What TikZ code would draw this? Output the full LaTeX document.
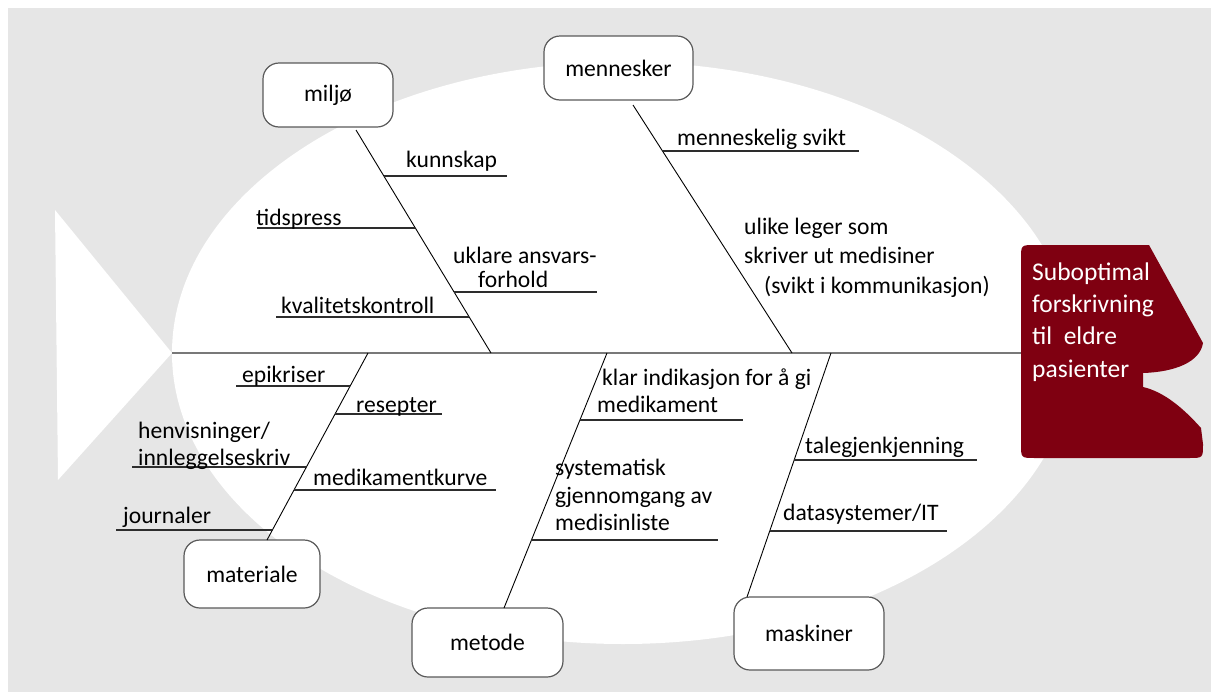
\documentclass[tikz,border=0pt]{standalone}
\usepackage{fontspec}
\setmainfont{Carlito}
\usetikzlibrary{calc}
\definecolor{bggray}{RGB}{230,230,230}
\definecolor{headred}{RGB}{127,0,17}
\definecolor{spinegray}{RGB}{120,120,120}
\definecolor{boxline}{RGB}{90,90,90}
\definecolor{subgray}{RGB}{45,45,45}
\begin{document}
\begin{tikzpicture}[x=1pt,y=-1pt,
  lbl/.style={anchor=base west,inner sep=0pt,font=\fontsize{23.6}{28}\selectfont},
  catbox/.style={draw=boxline,line width=1.2pt,rounded corners=16pt,fill=white,inner sep=0pt,font=\fontsize{23.6}{28}\selectfont},
  bone/.style={line width=0.9pt,draw=black},
  subbone/.style={line width=1.2pt,draw=subgray},
  spineline/.style={line width=2pt,draw=spinegray},
  headtxt/.style={anchor=base west,inner sep=0pt,text=white,font=\fontsize{25.5}{32}\selectfont}]
\useasboundingbox (0,0) rectangle (1211,694);
% background, body, tail
\fill[bggray] (8,8) rectangle (1211,692);
\fill[white] (623,353) ellipse [x radius=451, y radius=291];
\fill[white] (55,210) -- (172,353) -- (58,480) -- cycle;
% head
\fill[headred] (1021,259) -- (1021,444) .. controls (1021,458) .. (1035,458) -- (1189,458)
  .. controls (1203,458) .. (1203,444) -- (1201,428)
  .. controls (1185,410) and (1165,392) .. (1143,387) -- (1143,373)
  .. controls (1175,372) and (1200,362) .. (1203,343) -- (1149,245) -- (1035,245)
  .. controls (1021,245) .. (1021,259) -- cycle;
\node[headtxt] (h1) at (1032,280) {Suboptimal};
\node[headtxt] (h2) at (1032,312) {forskrivning};
\node[headtxt] (h3) at (1032,344) {til\ \ eldre};
\node[headtxt] (h4) at (1032,377) {pasienter};
% spine
\coordinate (tailV) at (172,353);
\coordinate (headW) at (1021,353);
\draw[spineline] (tailV) -- (headW);
% category boxes
\node[catbox, minimum width=130pt, minimum height=64pt] (miljo) at (328,95) {miljø};
\node[catbox, minimum width=149pt, minimum height=64pt] (mennesker) at (618.5,68) {mennesker};
\node[catbox, minimum width=136pt, minimum height=68pt] (materiale) at (252,574) {materiale};
\node[catbox, minimum width=151pt, minimum height=69pt] (metode) at (487.5,642.5) {metode};
\node[catbox, minimum width=150pt, minimum height=73pt] (maskiner) at (809,633.5) {maskiner};
% bones
\coordinate (miljoA) at (356,130); \coordinate (miljoB) at (491,353);
\coordinate (mennA) at (633,105); \coordinate (mennB) at (792,353);
\coordinate (matA) at (267,540); \coordinate (matB) at (368,353);
\coordinate (metA) at (504,608); \coordinate (metB) at (607,353);
\coordinate (maskA) at (747,597); \coordinate (maskB) at (831,353);
\draw[bone] (miljoA) -- (miljoB);
\draw[bone] (mennA) -- (mennB);
\draw[bone] (matA) -- (matB);
\draw[bone] (metA) -- (metB);
\draw[bone] (maskA) -- (maskB);
% sub-bones
\coordinate (kunA) at (384,176); \coordinate (kunB) at (507,176);
\coordinate (tidA) at (257,228); \coordinate (tidB) at (415,228);
\coordinate (ukA) at (454,292); \coordinate (ukB) at (597,292);
\coordinate (kvA) at (276,317); \coordinate (kvB) at (469,317);
\coordinate (msA) at (662,151); \coordinate (msB) at (859,151);
\coordinate (epA) at (236,386); \coordinate (epB) at (350,386);
\coordinate (reA) at (335,414); \coordinate (reB) at (442,414);
\coordinate (heA) at (132,467); \coordinate (heB) at (306,467);
\coordinate (mkA) at (294,490); \coordinate (mkB) at (496,490);
\coordinate (joA) at (116,530); \coordinate (joB) at (272,530);
\coordinate (klA) at (580,420); \coordinate (klB) at (743,420);
\coordinate (syA) at (531,540); \coordinate (syB) at (718,540);
\coordinate (taA) at (794,460); \coordinate (taB) at (977,460);
\coordinate (daA) at (770,531); \coordinate (daB) at (947,531);
\foreach \s in {kun,tid,uk,kv,ms,ep,re,he,mk,jo,kl,sy,ta,da}{\draw[subbone] (\s A) -- (\s B);}
% labels
\node[lbl] (kunnskap) at (406,167) {kunnskap};
\node[lbl] (tidspress) at (256,225) {tidspress};
\node[lbl] (uklare1) at (453,263) {uklare ansvars-};
\node[lbl] (uklare2) at (478,287) {forhold};
\node[lbl] (kvalitet) at (281,313) {kvalitetskontroll};
\node[lbl] (mensvikt) at (677,145) {menneskelig svikt};
\node[lbl] (ulike1) at (744,234) {ulike leger som};
\node[lbl] (ulike2) at (744,263) {skriver ut medisiner};
\node[lbl] (ulike3) at (764,293) {(svikt i kommunikasjon)};
\node[lbl] (epikriser) at (242,382) {epikriser};
\node[lbl] (resepter) at (356,412) {resepter};
\node[lbl] (henv1) at (138,438) {henvisninger/};
\node[lbl] (henv2) at (138,465) {innleggelseskriv};
\node[lbl] (medkurve) at (313,485) {medikamentkurve};
\node[lbl] (journaler) at (123,523) {journaler};
\node[lbl] (klar1) at (602,385) {klar indikasjon for å gi};
\node[lbl] (klar2) at (597,412) {medikament};
\node[lbl] (sys1) at (555,475) {systematisk};
\node[lbl] (sys2) at (555,503) {gjennomgang av};
\node[lbl] (sys3) at (555,530) {medisinliste};
\node[lbl] (tale) at (805,453) {talegjenkjenning};
\node[lbl] (datasys) at (783,520) {datasystemer/IT};
\end{tikzpicture}
\end{document}
